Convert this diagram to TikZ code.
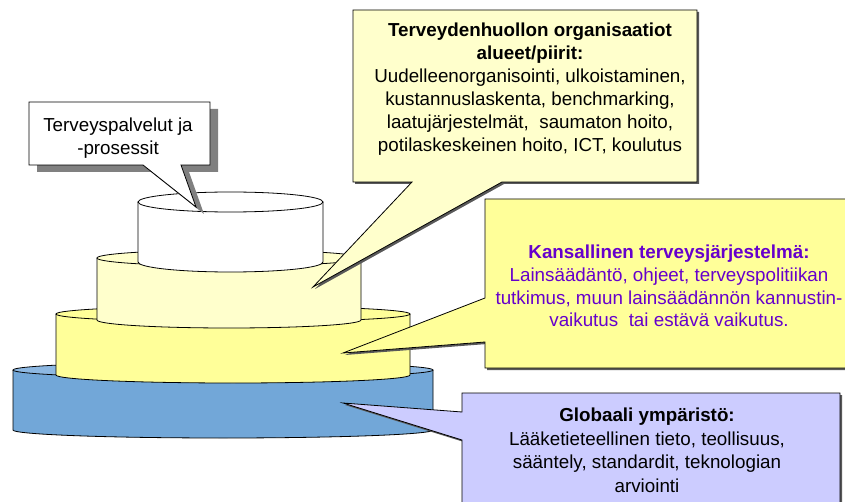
\documentclass[tikz,border=0pt]{standalone}
\usepackage{fontspec}
\setmainfont{Liberation Sans}
\definecolor{paleyellow}{HTML}{FFFFCC}
\definecolor{brightyellow}{HTML}{FFFF99}
\definecolor{lavender}{HTML}{CCCCFF}
\definecolor{tierblue}{HTML}{72A7D8}
\definecolor{tierbluetop}{HTML}{8DB8E2}
\definecolor{policyviolet}{HTML}{6600CC}

% One tier of the stacked cake: centre x, half width, top y, bottom y,
% ellipse half height, side colour, lid colour
\newcommand\tierdisc[7]{%
  \fill[#6] (#1-#2,#3) -- (#1-#2,#4)
    arc[start angle=180,end angle=360,x radius=#2,y radius=#5] -- (#1+#2,#3) -- cycle;
  \draw[outline] (#1-#2,#3) -- (#1-#2,#4)
    arc[start angle=180,end angle=360,x radius=#2,y radius=#5] -- (#1+#2,#3);
  \filldraw[outline,fill=#7] (#1,#3) ellipse[x radius=#2,y radius=#5];
}

\begin{document}
\begin{tikzpicture}[x=1pt,y=1pt,
  outline/.style={draw=black,line width=0.8pt,line join=miter},
  thinshadow/.style={fill=black!65},
  boldshadow/.style={fill=black!50},
  label/.style={align=center,inner sep=0pt,font=\fontsize{18.8}{22.6}\selectfont},
]
\useasboundingbox (0,0) rectangle (845,-502);
\fill[white] (0,0) rectangle (845,-502);

% the four tiers, bottom first
\tierdisc{223}{210}{-370}{-430}{8}{tierblue}{tierbluetop}
\tierdisc{233}{177}{-314}{-375}{8}{brightyellow}{brightyellow}
\tierdisc{229}{132}{-258}{-320}{8}{paleyellow}{paleyellow}
\tierdisc{230.5}{92.5}{-202}{-262}{10}{white}{white}

% callout: services and processes
\fill[boldshadow,shift={(8,-7)}] (29,-102) -- (210,-102) -- (210,-165) -- (181,-165)
  -- (196,-207) -- (143,-165) -- (29,-165) -- cycle;
\filldraw[outline,fill=white] (29,-102) -- (210,-102) -- (210,-165) -- (181,-165)
  -- (196,-207) -- (143,-165) -- (29,-165) -- cycle;
\node[label] (services) at (118,-138) {Terveyspalvelut ja\\-prosessit};

% callout: organisations
\fill[thinshadow,shift={(2,-2)}] (353,-10) -- (697,-10) -- (697,-182) -- (502,-182)
  -- (313,-287) -- (412,-182) -- (353,-182) -- cycle;
\filldraw[outline,fill=paleyellow] (353,-10) -- (697,-10) -- (697,-182) -- (502,-182)
  -- (313,-287) -- (412,-182) -- (353,-182) -- cycle;
\node[label,font=\fontsize{18.8}{23}\selectfont] (organisations) at (530,-88.7)
  {\textbf{Terveydenhuollon organisaatiot}\\
   \textbf{alueet/piirit:}\\
   Uudelleenorganisointi, ulkoistaminen,\\
   kustannuslaskenta, benchmarking,\\
   laatujärjestelmät,\ \ saumaton hoito,\\
   potilaskeskeinen hoito, ICT, koulutus};

% callout: national health system
\fill[thinshadow,shift={(2,-2)}] (485,-199) -- (850,-199) -- (850,-368) -- (485,-368)
  -- (485,-342) -- (343,-353) -- (485,-298) -- cycle;
\filldraw[outline,fill=brightyellow] (485,-199) -- (850,-199) -- (850,-368) -- (485,-368)
  -- (485,-342) -- (343,-353) -- (485,-298) -- cycle;
\node[label,text=policyviolet,font=\fontsize{18.8}{22.7}\selectfont] (national) at (669,-286)
  {\textbf{Kansallinen terveysjärjestelmä:}\\
   Lainsäädäntö, ohjeet, terveyspolitiikan\\
   tutkimus, muun lainsäädännön kannustin-\\
   vaikutus\ \ tai estävä vaikutus.};

% callout: global environment
\fill[thinshadow,shift={(2,-2)}] (462,-393) -- (840,-393) -- (840,-510) -- (462,-510)
  -- (462,-440) -- (343,-403) -- (462,-412) -- cycle;
\filldraw[outline,fill=lavender] (462,-393) -- (840,-393) -- (840,-510) -- (462,-510)
  -- (462,-440) -- (343,-403) -- (462,-412) -- cycle;
\node[label,font=\fontsize{18.8}{23.7}\selectfont] (global) at (647,-450.4)
  {\textbf{Globaali ympäristö:}\\
   Lääketieteellinen tieto, teollisuus,\\
   sääntely, standardit, teknologian\\
   arviointi};
\end{tikzpicture}
\end{document}
